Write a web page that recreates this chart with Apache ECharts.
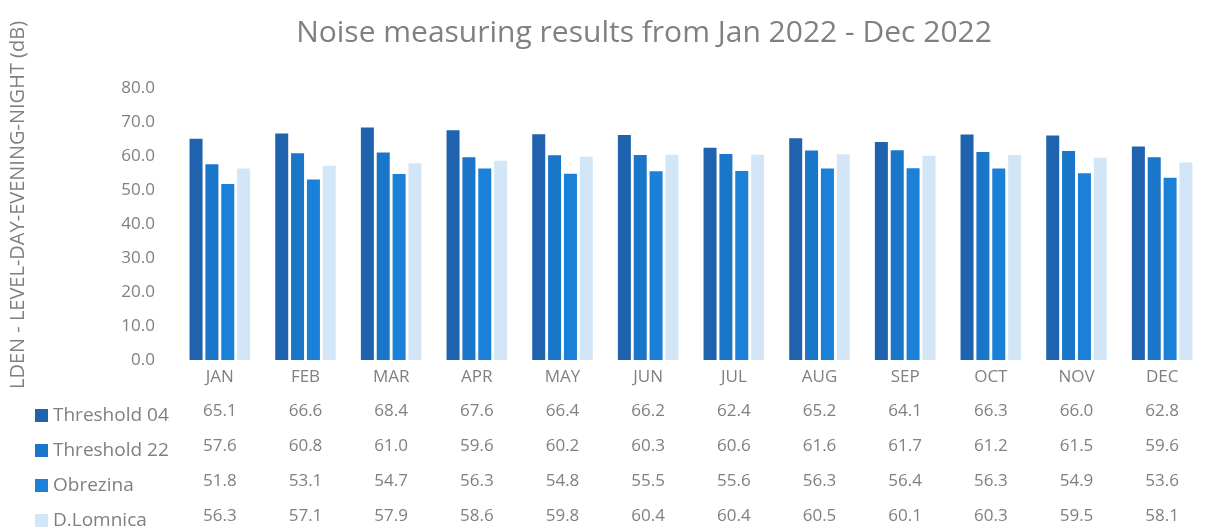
<!DOCTYPE html>
<html><head><meta charset="utf-8">
<script src="https://cdn.jsdelivr.net/npm/echarts@6/dist/echarts.min.js"></script>
<style>html,body{margin:0;padding:0;background:#fff;}#c{width:1205px;height:527px;}</style>
</head><body><div id="c"></div>
<script>
const months = ['JAN','FEB','MAR','APR','MAY','JUN','JUL','AUG','SEP','OCT','NOV','DEC'];
const seriesNames = ['Threshold 04','Threshold 22','Obrezina','D.Lomnica'];
const threshold04 = [65.1,66.6,68.4,67.6,66.4,66.2,62.4,65.2,64.1,66.3,66.0,62.8];
const threshold22 = [57.6,60.8,61.0,59.6,60.2,60.3,60.6,61.6,61.7,61.2,61.5,59.6];
const obrezina = [51.8,53.1,54.7,56.3,54.8,55.5,55.6,56.3,56.4,56.3,54.9,53.6];
const dLomnica = [56.3,57.1,57.9,58.6,59.8,60.4,60.4,60.5,60.1,60.3,59.5,58.1];
const yTicks = [0,10,20,30,40,50,60,70,80];

const values = [threshold04, threshold22, obrezina, dLomnica];
const colors = ['#1f62ad','#1a76c8','#1a80d8','#d3e6f8'];
const gray = '#808080';
const font = 'Open Sans';

const xAxes = [{
  type:'category', data: months, gridIndex:0, position:'bottom',
  axisLine:{show:false}, axisTick:{show:false},
  axisLabel:{color:gray, fontSize:17, fontFamily:font, margin:9}
}];
values.forEach((arr, i) => {
  xAxes.push({
    type:'category', data: months, gridIndex:0, position:'bottom', offset: 35*(i+1),
    axisLine:{show:false}, axisTick:{show:false},
    axisLabel:{color:gray, fontSize:17, fontFamily:font, margin:8,
      formatter:(v, idx) => arr[idx].toFixed(1)}
  });
});

const legends = seriesNames.map((n, i) => ({
  data:[n], orient:'vertical', left:30, top: 401 + 35*i,
  itemWidth:13, itemHeight:13, itemGap:0, icon:'rect',
  textStyle:{color:gray, fontSize:19, fontFamily:font, padding:[0,0,0,0]},
  selectedMode:false
}));

const chart = echarts.init(document.getElementById('c'));
chart.setOption({
  animation:false,
  title:{text:'Noise measuring results from Jan 2022 - Dec 2022', left:639, textAlign:'center', top:13,
    textStyle:{color:gray, fontSize:30, fontWeight:'normal', fontFamily:font}},
  grid:{left:177, right:-12, top:88, bottom:167, containLabel:false},
  legend: legends,
  xAxis: xAxes,
  yAxis:{type:'value', min:yTicks[0], max:yTicks[yTicks.length-1], interval:10,
    axisLine:{show:false}, axisTick:{show:false}, splitLine:{show:false},
    axisLabel:{color:gray, fontSize:17, fontFamily:font, margin:22, formatter:v => v.toFixed(1)}},
  graphic:[{
    type:'text', x:18, y:205, rotation:Math.PI/2,
    style:{text:'LDEN - LEVEL-DAY-EVENING-NIGHT (dB)', fill:gray, fontSize:20, fontFamily:font,
      textAlign:'center', textVerticalAlign:'middle'}
  }],
  series: values.map((arr, i) => ({
    name: seriesNames[i], type:'bar', data: arr, xAxisIndex:0,
    barWidth:13, barGap:'22%', itemStyle:{color:colors[i]}
  }))
});
</script></body></html>
